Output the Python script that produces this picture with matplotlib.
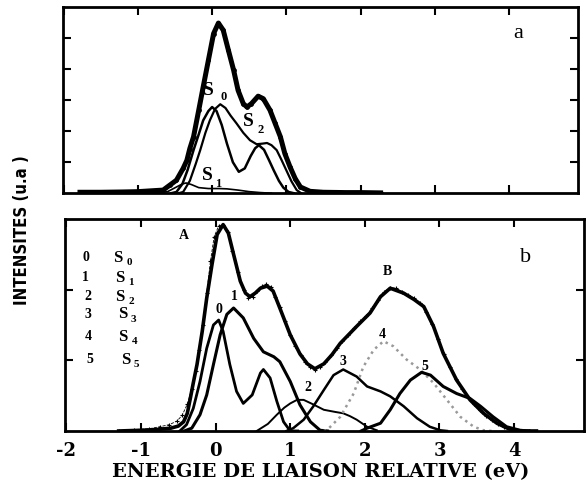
import numpy as np
import matplotlib
matplotlib.use('Agg')
import matplotlib.pyplot as plt

plt.rcParams['font.family'] = ['Liberation Serif', 'DejaVu Serif']
plt.rcParams['lines.solid_joinstyle'] = 'round'

# ---- panel a (E in eV, intensity in a.u.) ----
a_env_E = [-1.78, -1.5, -1.2, -1.0, -0.8, -0.66, -0.57, -0.48, -0.39, -0.34, -0.30, -0.25,
           -0.18, -0.12, -0.05, 0.02, 0.085, 0.15, 0.22, 0.29, 0.35, 0.42, 0.47, 0.53,
           0.62, 0.69, 0.78, 0.85, 0.92, 0.98, 1.05, 1.12, 1.19, 1.32, 1.5, 1.8, 2.0, 2.27]
a_env_I = [0.03, 0.03, 0.04, 0.05, 0.08, 0.1, 0.26, 0.42, 0.8, 1.06, 1.44, 1.82,
           2.68, 3.43, 4.29, 5.15, 5.49, 5.26, 4.61, 3.97, 3.32, 2.89, 2.78, 2.89,
           3.13, 3.05, 2.68, 2.25, 1.82, 1.28, 0.85, 0.47, 0.2, 0.06, 0.03, 0.02, 0.02, 0.01]

a_s0_E = [-0.55, -0.48, -0.40, -0.33, -0.25, -0.18, -0.12, -0.05, 0.0, 0.06, 0.13, 0.2,
          0.28, 0.36, 0.44, 0.52, 0.58, 0.63, 0.7, 0.77, 0.83, 0.9, 0.96, 1.03, 1.1]
a_s0_I = [0.0, 0.04, 0.3, 0.75, 1.39, 1.9, 2.35, 2.65, 2.78, 2.65, 2.2, 1.6,
          1.0, 0.69, 0.8, 1.2, 1.45, 1.55, 1.4, 1.05, 0.74, 0.4, 0.18, 0.04, 0.0]

a_s2_E = [-0.45, -0.39, -0.3, -0.22, -0.16, -0.09, -0.03, 0.04, 0.11, 0.18, 0.25, 0.33,
          0.42, 0.51, 0.6, 0.68, 0.74, 0.8, 0.87, 0.93, 1.0, 1.07, 1.14, 1.2]
a_s2_I = [0.0, 0.04, 0.4, 0.95, 1.39, 1.95, 2.35, 2.72, 2.87, 2.75, 2.5, 2.25,
          1.95, 1.71, 1.58, 1.6, 1.62, 1.55, 1.39, 1.1, 0.74, 0.38, 0.1, 0.0]

a_s1_E = [-0.75, -0.6, -0.48, -0.40, -0.35, -0.28, -0.18, -0.05, 0.1, 0.2, 0.35, 0.5, 0.65, 0.8]
a_s1_I = [0.0, 0.05, 0.2, 0.3, 0.33, 0.28, 0.18, 0.15, 0.15, 0.14, 0.1, 0.05, 0.02, 0.0]

# ---- panel b ----
b_dat_E = [-1.3, -1.1, -0.9, -0.75, -0.62, -0.52, -0.45, -0.38, -0.32, -0.27, -0.22, -0.17,
           -0.12, -0.07, -0.02, 0.04, 0.1, 0.16, 0.22, 0.3, 0.38, 0.44, 0.5, 0.56, 0.62,
           0.68, 0.74, 0.8, 0.86, 0.93, 1.0, 1.07, 1.14, 1.2, 1.27, 1.33, 1.4, 1.47, 1.55,
           1.62, 1.7, 1.78, 1.86, 1.94, 2.02, 2.1, 2.18, 2.26, 2.34, 2.42, 2.5, 2.58, 2.66,
           2.74, 2.82, 2.9, 2.98, 3.06, 3.14, 3.22, 3.3, 3.38, 3.46, 3.54, 3.62, 3.7, 3.78,
           3.86, 3.94, 4.02, 4.1, 4.2]
b_dat_I = [0.0, 0.02, 0.03, 0.06, 0.09, 0.14, 0.22, 0.38, 0.6, 0.85, 1.15, 1.5,
           1.95, 2.4, 2.75, 2.9, 2.92, 2.82, 2.55, 2.25, 2.0, 1.88, 1.9, 1.98, 2.05,
           2.08, 2.04, 1.9, 1.76, 1.56, 1.36, 1.2, 1.07, 0.98, 0.9, 0.86, 0.91, 0.98, 1.08,
           1.18, 1.27, 1.36, 1.45, 1.55, 1.63, 1.74, 1.86, 1.97, 2.03, 2.02, 1.97, 1.93, 1.88,
           1.81, 1.69, 1.52, 1.3, 1.09, 0.9, 0.74, 0.6, 0.48, 0.38, 0.29, 0.21, 0.15, 0.1,
           0.06, 0.03, 0.01, 0.0, 0.0]

b_fit_E = [-1.3, -1.0, -0.8, -0.6, -0.5, -0.43, -0.38, -0.34, -0.30, -0.25, -0.18, -0.12,
           -0.05, 0.02, 0.10, 0.17, 0.24, 0.33, 0.40, 0.46, 0.53, 0.60, 0.69, 0.77, 0.86,
           1.0, 1.13, 1.23, 1.33, 1.45, 1.56, 1.67, 1.78, 1.89, 2.07, 2.21, 2.34, 2.52,
           2.66, 2.79, 2.92, 3.05, 3.23, 3.41, 3.59, 3.77, 3.95, 4.1, 4.3]
b_fit_I = [0.0, 0.01, 0.02, 0.04, 0.07, 0.13, 0.25, 0.46, 0.68, 0.94, 1.41, 1.88,
           2.35, 2.78, 2.92, 2.80, 2.50, 2.12, 1.95, 1.90, 1.95, 2.02, 2.05, 1.98, 1.74,
           1.36, 1.09, 0.95, 0.88, 0.95, 1.08, 1.24, 1.36, 1.48, 1.67, 1.90, 2.02, 1.95,
           1.86, 1.76, 1.48, 1.10, 0.72, 0.44, 0.25, 0.11, 0.02, 0.0, 0.0]

b_c0_E = [-0.48, -0.39, -0.30, -0.21, -0.12, -0.03, 0.04, 0.10, 0.19, 0.28, 0.37, 0.49,
          0.60, 0.64, 0.73, 0.82, 0.91, 1.0, 1.1]
b_c0_I = [0.0, 0.09, 0.32, 0.70, 1.17, 1.50, 1.57, 1.41, 0.94, 0.56, 0.39, 0.51,
          0.82, 0.87, 0.75, 0.42, 0.13, 0.0, 0.0]

b_c1_E = [-0.42, -0.32, -0.21, -0.12, -0.03, 0.06, 0.15, 0.24, 0.37, 0.51, 0.64, 0.78,
          0.86, 1.0, 1.13, 1.27, 1.4, 1.5]
b_c1_I = [0.0, 0.04, 0.23, 0.51, 0.94, 1.36, 1.65, 1.74, 1.60, 1.31, 1.12, 1.05,
          0.98, 0.70, 0.37, 0.13, 0.01, 0.0]

b_c2_E = [0.55, 0.7, 0.82, 0.92, 1.0, 1.09, 1.18, 1.3, 1.45, 1.6, 1.71, 1.8, 1.89, 2.03, 2.16]
b_c2_I = [0.0, 0.1, 0.23, 0.33, 0.39, 0.44, 0.44, 0.38, 0.30, 0.27, 0.25, 0.21, 0.16, 0.06, 0.01]

b_c3_E = [0.95, 1.04, 1.18, 1.31, 1.45, 1.58, 1.71, 1.89, 2.03, 2.21, 2.34, 2.52, 2.70,
          2.87, 3.01, 3.1]
b_c3_I = [0.0, 0.04, 0.16, 0.35, 0.58, 0.79, 0.87, 0.77, 0.63, 0.56, 0.49, 0.35, 0.18,
          0.06, 0.01, 0.0]

b_c4_E = [1.45, 1.49, 1.67, 1.85, 1.98, 2.12, 2.25, 2.38, 2.56, 2.74, 2.92, 3.10, 3.28,
          3.46, 3.59, 3.7]
b_c4_I = [0.0, 0.01, 0.20, 0.53, 0.91, 1.15, 1.27, 1.20, 1.01, 0.87, 0.68, 0.44, 0.20,
          0.06, 0.01, 0.0]

b_c5_E = [1.95, 2.03, 2.21, 2.34, 2.47, 2.61, 2.76, 2.88, 3.05, 3.23, 3.41, 3.55, 3.72,
          3.90, 4.08, 4.2]
b_c5_I = [0.0, 0.04, 0.11, 0.30, 0.53, 0.72, 0.83, 0.79, 0.63, 0.53, 0.46, 0.35, 0.20,
          0.06, 0.01, 0.0]

comp_labels = ['0', '1', '2', '3', '4', '5']
tick_labels = ['-2', '-1', '0', '1', '2', '3', '4', '5']

fig = plt.figure(figsize=(5.88, 4.83), dpi=100)
ax1 = fig.add_axes([0.107, 0.600, 0.876, 0.385])
ax2 = fig.add_axes([0.1105, 0.1077, 0.883, 0.439])

for ax in (ax1, ax2):
    for sp in ax.spines.values():
        sp.set_linewidth(2)
    ax.tick_params(direction='in', top=True, right=True, length=6, width=1.5)
    ax.set_xticks([-2, -1, 0, 1, 2, 3, 4, 5])

# top panel
ax1.plot(a_env_E, a_env_I, '-', color='k', lw=3.6, marker='o', ms=2.4)
ax1.plot(a_s0_E, a_s0_I, '-', color='k', lw=1.8)
ax1.plot(a_s2_E, a_s2_I, '-', color='k', lw=1.6)
ax1.plot(a_s1_E, a_s1_I, '-', color='k', lw=1.2)
ax1.set_xlim(-2.01, 4.93)
ax1.set_ylim(0, 6)
ax1.set_yticks([1, 2, 3, 4, 5])
ax1.set_xticklabels([])
ax1.set_yticklabels([])

sty = dict(fontsize=14, fontweight='bold', ha='center', va='center')
sub = dict(fontsize=9, fontweight='bold', ha='center', va='center')
ax1.text(-0.05, 3.32, 'S', **sty)
ax1.text(0.15, 3.09, '0', **sub)
ax1.text(0.49, 2.30, 'S', **sty)
ax1.text(0.65, 2.03, '2', **sub)
ax1.text(-0.07, 0.58, 'S', **sty)
ax1.text(0.08, 0.29, '1', **sub)
ax1.text(4.12, 5.16, 'a', fontsize=16, ha='center', va='center')

# bottom panel
ax2.plot(b_dat_E, b_dat_I, '--', color='k', lw=0.6, marker='+', ms=3.5, mew=0.8)
ax2.plot(b_fit_E, b_fit_I, '-', color='k', lw=2.6)
ax2.plot(b_c0_E, b_c0_I, '-', color='k', lw=2.0)
ax2.plot(b_c1_E, b_c1_I, '-', color='k', lw=2.2)
ax2.plot(b_c2_E, b_c2_I, '-', color='k', lw=1.4)
ax2.plot(b_c3_E, b_c3_I, '-', color='k', lw=1.8)
ax2.plot(b_c4_E, b_c4_I, ':', color='#999999', lw=1.8)
ax2.plot(b_c5_E, b_c5_I, '-', color='k', lw=2.2)
ax2.set_xlim(-2.02, 4.94)
ax2.set_ylim(0, 3)
ax2.set_yticks([1, 2])
ax2.set_yticklabels([])
ax2.set_xticklabels(tick_labels, fontweight='bold', fontsize=13, family='DejaVu Serif')
ax2.tick_params(axis='x', pad=8)

num = dict(fontsize=10, fontweight='bold', ha='center', va='center')
for lab, x, y in zip(comp_labels, [0.04, 0.25, 1.24, 1.71, 2.23, 2.81],
                     [1.72, 1.90, 0.61, 0.98, 1.36, 0.91]):
    ax2.text(x, y, lab, **num)

ax2.text(-0.43, 2.76, 'A', **num)
ax2.text(2.30, 2.26, 'B', **num)
ax2.text(4.15, 2.45, 'b', fontsize=16, ha='center', va='center')

leg_y = [2.45, 2.17, 1.90, 1.65, 1.33, 1.01]
leg_xn = [-1.74, -1.74, -1.71, -1.71, -1.71, -1.68]
leg_xs = [-1.31, -1.28, -1.28, -1.25, -1.24, -1.21]
for n, xn, xs, y in zip(comp_labels, leg_xn, leg_xs, leg_y):
    ax2.text(xn, y, n, **num)
    ax2.text(xs, y, 'S', fontsize=12, fontweight='bold', ha='center', va='center')
    ax2.text(xs + 0.15, y - 0.07, n, fontsize=8, fontweight='bold', ha='center', va='center')

fig.text(0.546, 0.023, 'ENERGIE DE LIAISON RELATIVE (eV)', fontsize=14,
         fontweight='bold', ha='center', va='center', family='DejaVu Serif')
fig.text(0.037, 0.524, 'INTENSITES (u.a )', rotation=90, fontsize=12,
         fontweight='bold', ha='center', va='center',
         family='DejaVu Sans', fontstretch='condensed')

fig.savefig('out.png', dpi=100)
